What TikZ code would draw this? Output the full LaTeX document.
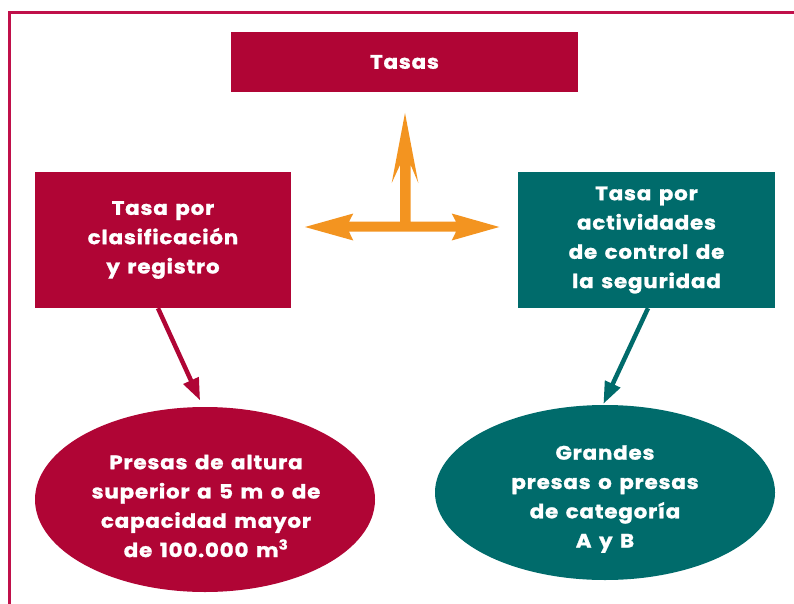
\documentclass[tikz,border=0pt]{standalone}
\usepackage{fontspec}
\setmainfont{Poppins}[FakeStretch=1.1,LetterSpace=4,WordSpace=1.4,FakeBold=1.2]
\usetikzlibrary{shapes.geometric,arrows.meta}
\definecolor{crim}{HTML}{B00535}
\definecolor{frame}{HTML}{C0104A}
\definecolor{tealc}{HTML}{006B6B}
\definecolor{orng}{HTML}{F39420}
\begin{document}
\begin{tikzpicture}[x=1pt,y=-1pt,
  txt/.style={text=white,font=\fontsize{19.5}{29.3}\selectfont\bfseries,align=center,inner sep=0pt},
  rbox/.style={rectangle,inner sep=0pt,minimum height=136pt},
  oval/.style={ellipse,inner sep=0pt},
  link/.style={line width=4.5pt,-{Triangle[length=22pt,width=16pt]}}]
\useasboundingbox (0,0) rectangle (794,604);
% frame
\draw[frame,line width=3pt] (9.5,604) -- (9.5,12.3) -- (794,12.3);
% boxes
\node[rbox,fill=crim,minimum width=347pt,minimum height=60pt] (top) at (404.5,62) {};
\node[txt] (toptxt) at (404.5,62) {Tasas};
\node[rbox,fill=crim,minimum width=256pt] (lb) at (163,240) {};
\node[txt] (lbtxt) at (163,240) {Tasa por\\clasificación\\y registro};
\node[rbox,fill=tealc,minimum width=257pt] (rb) at (646.5,240) {};
\node[txt] (rbtxt) at (646.5,240) {Tasa por\\actividades\\de control de\\la seguridad};
% ellipses
\node[oval,fill=crim,minimum width=340pt,minimum height=185pt] (le) at (205,499.5) {};
\node[txt] (letxt) at (206,506) {Presas de altura\\superior a 5 m o de\\capacidad mayor\\de 100.000 m\textsuperscript{3}};
\node[oval,fill=tealc,minimum width=340pt,minimum height=175pt] (re) at (605,492.5) {};
\node[txt] (retxt) at (605,499) {Grandes\\presas o presas\\de categoría\\A y B};
% connectors
\draw[link,crim,shorten >=7pt] ([xshift=-5pt]lb.south) -- ([xshift=-2pt]le.north);
\draw[link,tealc,shorten >=1pt] ([xshift=1.5pt]rb.south) -- ([xshift=-2pt]re.north);
% orange cross arrows
\coordinate (c) at (405.5,226.7);
\fill[orng] (305,227) -- (353.3,213.5) -- (349,221.7) -- (400,221.7) -- (400,165) -- (391.7,183) -- (405,113) -- (418.3,183) -- (410.7,165) -- (410.7,221.7)
  -- (456,221.7) -- (451.7,213.5) -- (499.3,227) -- (451.7,240.5) -- (456,231.7) -- (349,231.7) -- (353.3,240.5) -- cycle;
\end{tikzpicture}
\end{document}
